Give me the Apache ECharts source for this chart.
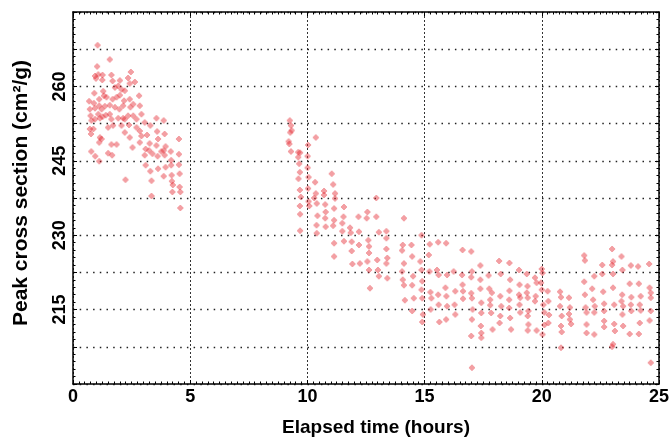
<!DOCTYPE html>
<html>
<head>
<meta charset="utf-8">
<script src="https://cdn.jsdelivr.net/npm/echarts@6/dist/echarts.min.js"></script>
<style>html,body{margin:0;padding:0;background:#fff;}#c{width:672px;height:442px;}</style>
</head>
<body>
<div id="c"></div>
<script>
// Early run (0-5 h)
var runEarly = [[1.05,268.3],[1.57,265.4],[1.03,264.0],[0.94,262.1],[0.98,261.6],[1.08,262.4],[1.26,262.3],[1.64,262.3],[2.47,262.9],[1.25,261.3],[1.69,261.1],[2.0,261.2],[2.35,261.7],[2.64,260.9],[2.42,260.6],[1.79,259.8],[1.93,260.1],[2.07,259.4],[2.21,259.1],[1.29,259.0],[0.91,258.6],[0.69,257.0],[0.89,256.6],[1.12,257.4],[1.32,258.1],[1.43,257.8],[1.69,257.4],[1.86,257.8],[2.0,258.2],[2.18,257.1],[2.42,257.4],[2.82,258.1],[2.85,256.1],[2.45,255.8],[2.57,256.4],[0.72,255.4],[0.94,255.6],[1.12,256.1],[1.22,255.4],[1.36,256.0],[1.57,256.2],[1.79,255.8],[1.98,255.4],[2.14,256.1],[1.57,254.4],[1.40,254.2],[1.26,253.9],[1.08,254.4],[0.94,253.4],[0.75,254.1],[0.79,253.1],[1.15,253.6],[1.64,253.4],[1.93,253.6],[2.14,253.6],[2.35,254.1],[2.57,254.1],[2.71,253.4],[2.92,254.4],[3.06,252.7],[3.56,253.6],[3.87,253.1],[1.50,251.7],[1.71,252.1],[2.07,252.1],[2.39,252.2],[2.21,253.4],[2.71,251.7],[2.85,251.0],[3.30,252.1],[0.72,251.4],[0.87,251.4],[0.77,250.4],[1.15,249.7],[1.12,248.7],[1.22,249.4],[2.21,250.7],[2.42,249.7],[2.92,250.0],[3.16,250.2],[3.59,250.9],[3.63,249.4],[3.91,250.4],[4.52,249.4],[1.64,248.3],[1.86,248.3],[2.85,248.7],[3.27,248.5],[3.56,248.1],[3.95,247.9],[3.87,247.1],[3.10,247.4],[3.25,247.1],[0.78,246.9],[0.95,245.9],[1.12,244.9],[1.50,246.5],[1.67,246.1],[2.54,247.7],[3.06,246.1],[3.39,246.4],[3.61,245.9],[3.77,246.9],[3.91,246.1],[4.17,246.9],[4.52,246.3],[4.19,245.1],[3.10,244.1],[3.30,242.9],[3.63,243.4],[3.95,243.7],[4.19,244.1],[4.52,244.2],[4.55,242.4],[4.21,242.1],[3.87,241.9],[2.24,241.2],[3.35,241.0],[4.22,240.9],[4.26,240.1],[4.55,239.7],[4.58,238.7],[4.24,238.7],[3.35,237.9],[4.58,235.5]];

// Middle run (9-17 h)
var runMiddle = [[9.25,253.1],[9.30,252.1],[9.33,251.1],[9.27,250.7],[9.20,248.9],[9.23,248.4],[9.30,246.9],[10.36,249.7],[9.61,246.7],[9.69,246.6],[9.61,245.7],[9.65,244.4],[9.68,242.7],[9.62,241.4],[10.03,248.2],[10.01,245.9],[10.01,243.6],[10.05,241.7],[9.68,239.1],[9.72,237.7],[9.68,235.9],[9.69,234.2],[9.69,230.9],[10.03,239.4],[10.05,236.8],[10.08,235.9],[10.33,240.7],[10.36,238.4],[10.29,237.5],[10.40,236.4],[10.43,233.9],[10.39,232.0],[10.40,230.4],[10.71,238.9],[10.71,238.1],[10.76,236.2],[10.78,234.7],[10.76,233.4],[10.78,231.7],[11.04,242.4],[11.10,240.2],[11.18,238.4],[11.18,237.4],[11.14,235.4],[11.14,233.0],[11.10,231.9],[11.14,228.4],[11.14,225.7],[11.56,235.7],[11.54,233.7],[11.49,232.4],[11.49,230.8],[11.56,228.8],[11.82,231.5],[11.85,230.5],[11.89,228.7],[11.89,226.8],[11.92,224.2],[12.18,233.7],[12.20,230.7],[12.20,228.0],[12.24,224.3],[12.56,234.7],[12.53,233.4],[12.60,229.0],[12.63,227.7],[12.63,226.4],[12.56,224.7],[12.63,223.0],[12.67,219.3],[12.94,237.5],[12.94,233.7],[13.05,230.6],[12.98,225.0],[13.01,223.0],[13.05,221.7],[13.37,230.8],[13.37,229.4],[13.37,227.2],[13.41,225.4],[13.37,224.3],[13.41,221.3],[14.12,233.4],[14.07,228.0],[14.04,226.9],[14.12,224.3],[14.04,222.7],[14.07,221.0],[14.12,219.9],[14.16,216.9],[14.44,228.0],[14.47,225.7],[14.51,221.7],[14.47,219.9],[14.54,217.3],[14.47,214.7],[14.87,230.0],[14.82,224.7],[14.87,223.0],[14.90,220.7],[14.87,219.0],[14.90,217.3],[14.93,214.0],[14.90,212.5],[15.22,228.2],[15.18,226.0],[15.21,222.7],[15.25,218.5],[15.29,217.3],[15.26,215.0],[15.58,228.6],[15.53,223.0],[15.60,222.0],[15.58,218.0],[15.60,216.0],[15.63,212.5],[15.92,228.4],[15.96,222.0],[15.89,219.4],[15.93,217.7],[15.96,215.7],[15.92,213.0],[16.24,222.7],[16.31,218.7],[16.28,216.0],[16.31,214.0],[16.62,227.0],[16.60,222.0],[16.62,220.0],[16.64,218.7],[16.64,217.2],[16.99,226.7],[17.02,222.7],[16.99,221.5],[16.99,218.3],[17.02,217.3],[17.05,215.0],[17.02,213.0],[16.99,209.7],[17.02,203.3]];

// Late run (17-25 h)
var runLate = [[17.38,223.9],[17.38,221.0],[17.38,219.2],[17.42,216.4],[17.42,214.3],[17.40,211.7],[17.42,210.3],[17.42,209.3],[17.73,221.9],[17.76,219.2],[17.80,217.0],[17.80,215.9],[17.84,214.3],[17.90,211.0],[17.87,218.4],[18.18,224.8],[18.25,222.2],[18.23,217.7],[18.27,215.7],[18.23,213.7],[18.20,212.3],[18.62,224.4],[18.65,221.0],[18.62,218.8],[18.61,217.0],[18.61,215.3],[18.65,213.3],[18.69,211.0],[19.03,223.0],[19.05,220.0],[19.03,218.0],[19.08,217.4],[19.05,216.0],[19.08,214.4],[19.36,222.2],[19.39,219.7],[19.36,218.4],[19.40,217.4],[19.43,214.7],[19.40,213.7],[19.43,212.0],[19.40,210.8],[19.71,221.4],[19.74,217.7],[19.71,216.7],[19.78,210.8],[19.78,220.4],[20.00,223.2],[20.03,222.4],[19.97,220.4],[20.00,219.0],[20.07,216.0],[20.11,214.4],[20.11,211.9],[20.03,210.0],[20.25,218.7],[20.28,216.7],[20.31,213.9],[20.28,212.3],[20.78,218.6],[20.82,217.5],[20.78,215.7],[20.85,213.7],[20.82,211.7],[20.85,210.5],[20.82,207.3],[21.16,217.4],[21.20,215.4],[21.16,214.1],[21.20,213.0],[21.25,212.1],[21.81,225.9],[21.84,224.9],[21.81,220.6],[21.84,218.0],[21.87,215.4],[21.91,214.4],[21.91,212.0],[21.91,210.3],[22.19,217.0],[22.15,219.2],[22.24,221.7],[22.26,215.7],[22.24,214.4],[22.24,210.0],[22.58,222.2],[22.62,218.6],[22.66,216.2],[22.66,214.7],[22.66,212.7],[22.66,211.5],[22.58,224.0],[23.00,227.2],[23.04,224.7],[23.00,224.0],[23.04,222.2],[23.04,219.4],[23.09,216.0],[23.09,212.1],[23.12,210.7],[23.04,208.0],[23.00,207.5],[23.40,225.7],[23.44,223.0],[23.43,218.0],[23.40,216.7],[23.47,215.7],[23.44,214.0],[23.47,211.7],[23.80,223.9],[23.75,220.2],[23.82,217.5],[23.80,216.0],[23.82,214.7],[23.75,210.1],[24.11,223.7],[24.14,220.2],[24.22,217.7],[24.18,216.0],[24.22,214.8],[24.18,212.3],[24.14,210.1],[24.58,224.2],[24.60,219.4],[24.65,218.4],[24.65,217.4],[24.65,214.7],[24.60,212.8],[24.65,204.3]];

var xTicks = [0, 5, 10, 15, 20, 25];
var yTickLabels = [215, 230, 245, 260];

var FONT = 'Liberation Sans, Arial, Helvetica, sans-serif';
var chart = echarts.init(document.getElementById('c'), null, {renderer: 'canvas'});

function axisCommon() {
  return {
    axisLine: {show: true, onZero: false, lineStyle: {color: '#000', width: 1.5}},
    axisTick: {show: true, inside: true, length: 4, lineStyle: {color: '#000', width: 1}},
    minorTick: {show: true, length: 2.5, lineStyle: {color: '#000', width: 1}}
  };
}

var marker = 'path://M2,0L4,0L4,1L5,1L5,2L6,2L6,4L5,4L5,5L4,5L4,6L2,6L2,5L1,5L1,4L0,4L0,2L1,2L1,1L2,1Z';
var allPts = runEarly.concat(runMiddle, runLate);

var option = {
  backgroundColor: '#fff',
  animation: false,
  grid: {left: 73, right: 11, top: 12, bottom: 55, containLabel: false},
  xAxis: [
    Object.assign(axisCommon(), {
      type: 'value', min: 0, max: 25, interval: 5, position: 'bottom',
      minorTick: {show: true, splitNumber: 20, length: 2.5, lineStyle: {color: '#000', width: 1}},
      axisLabel: {show: true, margin: 4, color: '#000', fontFamily: FONT, fontWeight: 'bold', fontSize: 18,
        formatter: function (v) { return xTicks.indexOf(v) >= 0 ? String(v) : ''; }},
      splitLine: {show: true, lineStyle: {color: '#333', width: 1, type: [2, 2]}},
      name: 'Elapsed time (hours)', nameLocation: 'middle', nameGap: 34,
      nameTextStyle: {color: '#000', fontFamily: FONT, fontWeight: 'bold', fontSize: 19, padding: [0, 0, 0, 20]}
    }),
    Object.assign(axisCommon(), {
      type: 'value', min: 0, max: 25, interval: 5, position: 'top',
      minorTick: {show: true, splitNumber: 20, length: 2.5, lineStyle: {color: '#000', width: 1}},
      axisLabel: {show: false}, splitLine: {show: false}
    })
  ],
  yAxis: [
    Object.assign(axisCommon(), {
      type: 'value', min: 200, max: 275, interval: 7.5, position: 'left',
      minorTick: {show: true, splitNumber: 5, length: 2.5, lineStyle: {color: '#000', width: 1}},
      axisLabel: {show: true, rotate: 90, margin: 4, color: '#000', fontFamily: FONT, fontWeight: 'bold', fontSize: 18,
        formatter: function (v) { return yTickLabels.indexOf(Math.round(v * 10) / 10) >= 0 ? String(v) : ''; }},
      splitLine: {show: true, lineStyle: {color: '#222', width: 1.3, type: [1.5, 5.2]}},
      name: 'Peak cross section (cm\u00B2/g)', nameLocation: 'middle', nameGap: 41,
      nameTextStyle: {color: '#000', fontFamily: FONT, fontWeight: 'bold', fontSize: 21, padding: [0, 0, 0, 10]}
    }),
    Object.assign(axisCommon(), {
      type: 'value', min: 200, max: 275, interval: 7.5, position: 'right',
      minorTick: {show: true, splitNumber: 5, length: 2.5, lineStyle: {color: '#000', width: 1}},
      axisLabel: {show: false}, splitLine: {show: false}
    })
  ],
  series: [{
    type: 'scatter',
    xAxisIndex: 0, yAxisIndex: 0,
    data: allPts,
    symbol: marker,
    symbolSize: 6,
    itemStyle: {color: 'rgba(228,36,46,0.55)'}
  }]
};
chart.setOption(option);
</script>
</body>
</html>
